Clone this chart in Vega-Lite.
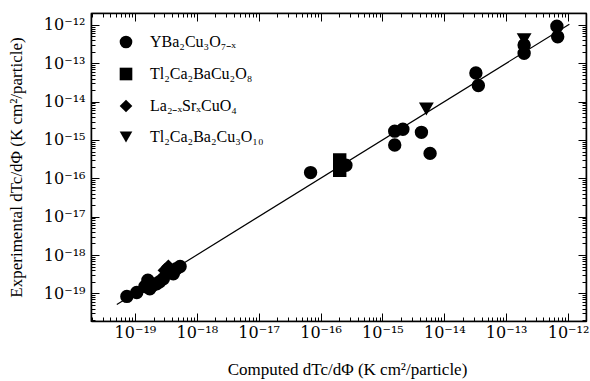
{
  "$schema": "https://vega.github.io/schema/vega-lite/v6.json",
  "width": 495,
  "height": 308,
  "autosize": "none",
  "padding": {"left": 91, "top": 13, "right": 4, "bottom": 60},
  "background": "white",
  "config": {
    "font": "Liberation Serif",
    "view": {"stroke": "black", "strokeWidth": 1.2},
    "axis": {
      "domainColor": "black",
      "domainWidth": 1.5,
      "tickColor": "black",
      "tickWidth": 1,
      "grid": false,
      "labelFont": "DejaVu Serif",
      "labelFontSize": 16,
      "labelColor": "black",
      "titleFont": "Liberation Serif",
      "titleFontSize": 17,
      "titleFontWeight": "normal",
      "titleColor": "black"
    },
    "legend": {"labelFont": "Liberation Serif"}
  },
  "datasets": {
    "pts": [
      {"comp": 7.41e-20, "exp": 8.32e-20, "mat": "YBa₂Cu₃O₇₋ₓ"},
      {"comp": 1.07e-19, "exp": 1.05e-19, "mat": "YBa₂Cu₃O₇₋ₓ"},
      {"comp": 1.62e-19, "exp": 2.19e-19, "mat": "YBa₂Cu₃O₇₋ₓ"},
      {"comp": 1.74e-19, "exp": 1.32e-19, "mat": "YBa₂Cu₃O₇₋ₓ"},
      {"comp": 2.24e-19, "exp": 1.78e-19, "mat": "YBa₂Cu₃O₇₋ₓ"},
      {"comp": 2.88e-19, "exp": 2.40e-19, "mat": "YBa₂Cu₃O₇₋ₓ"},
      {"comp": 4.17e-19, "exp": 3.24e-19, "mat": "YBa₂Cu₃O₇₋ₓ"},
      {"comp": 5.37e-19, "exp": 5.01e-19, "mat": "YBa₂Cu₃O₇₋ₓ"},
      {"comp": 4.68e-19, "exp": 4.37e-19, "mat": "YBa₂Cu₃O₇₋ₓ"},
      {"comp": 1.95e-19, "exp": 1.62e-19, "mat": "YBa₂Cu₃O₇₋ₓ"},
      {"comp": 2.51e-19, "exp": 2.00e-19, "mat": "YBa₂Cu₃O₇₋ₓ"},
      {"comp": 1.45e-19, "exp": 1.51e-19, "mat": "YBa₂Cu₃O₇₋ₓ"},
      {"comp": 3.47e-19, "exp": 5.01e-19, "mat": "La₂₋ₓSrₓCuO₄"},
      {"comp": 3.02e-19, "exp": 3.98e-19, "mat": "La₂₋ₓSrₓCuO₄"},
      {"comp": 6.9e-17, "exp": 1.41e-16, "mat": "YBa₂Cu₃O₇₋ₓ"},
      {"comp": 2.04e-16, "exp": 3.0e-16, "mat": "Tl₂Ca₂BaCu₂O₈"},
      {"comp": 2.04e-16, "exp": 1.62e-16, "mat": "Tl₂Ca₂BaCu₂O₈"},
      {"comp": 2.57e-16, "exp": 2.19e-16, "mat": "YBa₂Cu₃O₇₋ₓ"},
      {"comp": 1.58e-15, "exp": 1.70e-15, "mat": "YBa₂Cu₃O₇₋ₓ"},
      {"comp": 2.14e-15, "exp": 1.91e-15, "mat": "YBa₂Cu₃O₇₋ₓ"},
      {"comp": 1.58e-15, "exp": 7.4e-16, "mat": "YBa₂Cu₃O₇₋ₓ"},
      {"comp": 4.27e-15, "exp": 1.58e-15, "mat": "YBa₂Cu₃O₇₋ₓ"},
      {"comp": 5.89e-15, "exp": 4.47e-16, "mat": "YBa₂Cu₃O₇₋ₓ"},
      {"comp": 5.13e-15, "exp": 6.6e-15, "mat": "Tl₂Ca₂Ba₂Cu₃O₁₀"},
      {"comp": 3.24e-14, "exp": 5.6e-14, "mat": "YBa₂Cu₃O₇₋ₓ"},
      {"comp": 3.55e-14, "exp": 2.63e-14, "mat": "YBa₂Cu₃O₇₋ₓ"},
      {"comp": 1.95e-13, "exp": 4.27e-13, "mat": "Tl₂Ca₂Ba₂Cu₃O₁₀"},
      {"comp": 1.95e-13, "exp": 3.0e-13, "mat": "YBa₂Cu₃O₇₋ₓ"},
      {"comp": 1.95e-13, "exp": 1.82e-13, "mat": "YBa₂Cu₃O₇₋ₓ"},
      {"comp": 6.6e-13, "exp": 9.3e-13, "mat": "YBa₂Cu₃O₇₋ₓ"},
      {"comp": 6.8e-13, "exp": 4.9e-13, "mat": "YBa₂Cu₃O₇₋ₓ"}
    ],
    "fit": [
      {"comp": 5.1e-20, "exp": 5.1e-20},
      {"comp": 1.05e-12, "exp": 1.05e-12}
    ]
  },
  "layer": [
    {
      "data": {"name": "pts"},
      "mark": {"type": "point", "filled": true, "fill": "black", "stroke": "black", "opacity": 1, "size": 130},
      "encoding": {
        "x": {
          "field": "comp", "type": "quantitative",
          "scale": {"type": "log", "domain": [1.95e-20, 1.95e-12], "nice": false},
          "axis": {
            "orient": "bottom",
            "title": "Computed dTc/dΦ (K cm²/particle)",
            "titlePadding": 17,
            "titleX": 256,
            "values": [2e-20,3e-20,4e-20,5e-20,6e-20,7e-20,8e-20,9e-20,1e-19,2e-19,3e-19,4e-19,5e-19,6e-19,7e-19,8e-19,9e-19,1e-18,2e-18,3e-18,4e-18,5e-18,6e-18,7e-18,8e-18,9e-18,1e-17,2e-17,3e-17,4e-17,5e-17,6e-17,7e-17,8e-17,9e-17,1e-16,2e-16,3e-16,4e-16,5e-16,6e-16,7e-16,8e-16,9e-16,1e-15,2e-15,3e-15,4e-15,5e-15,6e-15,7e-15,8e-15,9e-15,1e-14,2e-14,3e-14,4e-14,5e-14,6e-14,7e-14,8e-14,9e-14,1e-13,2e-13,3e-13,4e-13,5e-13,6e-13,7e-13,8e-13,9e-13,1e-12],
            "labelExpr": "abs(log(datum.value)/LN10 - round(log(datum.value)/LN10)) < 0.001 ? ['10⁻²⁰','10⁻¹⁹','10⁻¹⁸','10⁻¹⁷','10⁻¹⁶','10⁻¹⁵','10⁻¹⁴','10⁻¹³','10⁻¹²'][round(log(datum.value)/LN10)+20] : ''",
            "labelPadding": 11,
            "labelOverlap": false,
            "tickSize": {"condition": {"test": "abs(log(datum.value)/LN10 - round(log(datum.value)/LN10)) < 0.001", "value": -8}, "value": -4}
          }
        },
        "y": {
          "field": "exp", "type": "quantitative",
          "scale": {"type": "log", "domain": [1.9e-20, 2.05e-12], "nice": false},
          "axis": {
            "orient": "left",
            "title": "Experimental dTc/dΦ (K cm²/particle)",
            "titlePadding": 18,
            "values": [2e-20,3e-20,4e-20,5e-20,6e-20,7e-20,8e-20,9e-20,1e-19,2e-19,3e-19,4e-19,5e-19,6e-19,7e-19,8e-19,9e-19,1e-18,2e-18,3e-18,4e-18,5e-18,6e-18,7e-18,8e-18,9e-18,1e-17,2e-17,3e-17,4e-17,5e-17,6e-17,7e-17,8e-17,9e-17,1e-16,2e-16,3e-16,4e-16,5e-16,6e-16,7e-16,8e-16,9e-16,1e-15,2e-15,3e-15,4e-15,5e-15,6e-15,7e-15,8e-15,9e-15,1e-14,2e-14,3e-14,4e-14,5e-14,6e-14,7e-14,8e-14,9e-14,1e-13,2e-13,3e-13,4e-13,5e-13,6e-13,7e-13,8e-13,9e-13,1e-12,2e-12],
            "labelExpr": "abs(log(datum.value)/LN10 - round(log(datum.value)/LN10)) < 0.001 ? ['10⁻²⁰','10⁻¹⁹','10⁻¹⁸','10⁻¹⁷','10⁻¹⁶','10⁻¹⁵','10⁻¹⁴','10⁻¹³','10⁻¹²'][round(log(datum.value)/LN10)+20] : ''",
            "labelPadding": 14,
            "labelOverlap": false,
            "tickSize": {"condition": {"test": "abs(log(datum.value)/LN10 - round(log(datum.value)/LN10)) < 0.001", "value": -8}, "value": -4}
          }
        },
        "shape": {
          "field": "mat", "type": "nominal",
          "scale": {
            "domain": ["YBa₂Cu₃O₇₋ₓ", "Tl₂Ca₂BaCu₂O₈", "La₂₋ₓSrₓCuO₄", "Tl₂Ca₂Ba₂Cu₃O₁₀"],
            "range": ["circle", "square", "diamond", "triangle-down"]
          },
          "legend": {
            "title": null,
            "orient": "none",
            "legendX": 27,
            "legendY": 21,
            "padding": 0,
            "symbolSize": 160,
            "symbolFillColor": "black",
            "symbolStrokeColor": "black",
            "symbolType": "circle",
            "labelFontSize": 16,
            "labelColor": "black",
            "labelOffset": 16,
            "rowPadding": 12
          }
        }
      }
    },
    {
      "data": {"name": "fit"},
      "mark": {"type": "line", "color": "black", "strokeWidth": 1.2},
      "encoding": {
        "x": {
          "field": "comp", "type": "quantitative",
          "scale": {"type": "log", "domain": [1.95e-20, 1.95e-12], "nice": false},
          "axis": {
            "orient": "top", "title": null, "labels": false,
            "values": [2e-20,3e-20,4e-20,5e-20,6e-20,7e-20,8e-20,9e-20,1e-19,2e-19,3e-19,4e-19,5e-19,6e-19,7e-19,8e-19,9e-19,1e-18,2e-18,3e-18,4e-18,5e-18,6e-18,7e-18,8e-18,9e-18,1e-17,2e-17,3e-17,4e-17,5e-17,6e-17,7e-17,8e-17,9e-17,1e-16,2e-16,3e-16,4e-16,5e-16,6e-16,7e-16,8e-16,9e-16,1e-15,2e-15,3e-15,4e-15,5e-15,6e-15,7e-15,8e-15,9e-15,1e-14,2e-14,3e-14,4e-14,5e-14,6e-14,7e-14,8e-14,9e-14,1e-13,2e-13,3e-13,4e-13,5e-13,6e-13,7e-13,8e-13,9e-13,1e-12],
            "tickSize": {"condition": {"test": "abs(log(datum.value)/LN10 - round(log(datum.value)/LN10)) < 0.001", "value": -8}, "value": -4}
          }
        },
        "y": {
          "field": "exp", "type": "quantitative",
          "scale": {"type": "log", "domain": [1.9e-20, 2.05e-12], "nice": false},
          "axis": {
            "orient": "right", "title": null, "labels": false,
            "values": [2e-20,3e-20,4e-20,5e-20,6e-20,7e-20,8e-20,9e-20,1e-19,2e-19,3e-19,4e-19,5e-19,6e-19,7e-19,8e-19,9e-19,1e-18,2e-18,3e-18,4e-18,5e-18,6e-18,7e-18,8e-18,9e-18,1e-17,2e-17,3e-17,4e-17,5e-17,6e-17,7e-17,8e-17,9e-17,1e-16,2e-16,3e-16,4e-16,5e-16,6e-16,7e-16,8e-16,9e-16,1e-15,2e-15,3e-15,4e-15,5e-15,6e-15,7e-15,8e-15,9e-15,1e-14,2e-14,3e-14,4e-14,5e-14,6e-14,7e-14,8e-14,9e-14,1e-13,2e-13,3e-13,4e-13,5e-13,6e-13,7e-13,8e-13,9e-13,1e-12,2e-12],
            "tickSize": {"condition": {"test": "abs(log(datum.value)/LN10 - round(log(datum.value)/LN10)) < 0.001", "value": -8}, "value": -4}
          }
        }
      }
    }
  ],
  "resolve": {"axis": {"x": "independent", "y": "independent"}}
}
